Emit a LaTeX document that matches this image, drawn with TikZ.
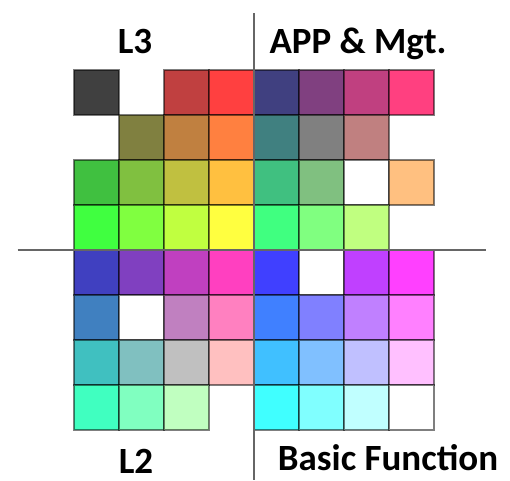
\documentclass[tikz,border=0pt]{standalone}
\usepackage{fontspec}
\setmainfont{Carlito}
\begin{document}
\begin{tikzpicture}[x=1pt,y=-1pt,
  cellborder/.style={draw=black,draw opacity=0.5,line width=1.2pt},
  axisline/.style={draw=black!60,line width=1.4pt},
  quadlabel/.style={font=\fontsize{37}{42}\selectfont\bfseries,inner sep=0pt,anchor=base}]
\useasboundingbox (0,0) rectangle (510,480);
% colour cube cells: column / row / colour
\foreach \c/\r/\h in {
  1/1/404040, 3/1/C04040, 4/1/FF4040, 5/1/404080, 6/1/804080, 7/1/C04080, 8/1/FF4080,
  2/2/808040, 3/2/C08040, 4/2/FF8040, 5/2/408080, 6/2/808080, 7/2/C08080,
  1/3/40C040, 2/3/80C040, 3/3/C0C040, 4/3/FFC040, 5/3/40C080, 6/3/80C080, 7/3/FFFFFF, 8/3/FFC080,
  1/4/40FF40, 2/4/80FF40, 3/4/C0FF40, 4/4/FFFF40, 5/4/40FF80, 6/4/80FF80, 7/4/C0FF80,
  1/5/4040C0, 2/5/8040C0, 3/5/C040C0, 4/5/FF40C0, 5/5/4040FF, 6/5/FFFFFF, 7/5/C040FF, 8/5/FF40FF,
  1/6/4080C0, 2/6/FFFFFF, 3/6/C080C0, 4/6/FF80C0, 5/6/4080FF, 6/6/8080FF, 7/6/C080FF, 8/6/FF80FF,
  1/7/40C0C0, 2/7/80C0C0, 3/7/C0C0C0, 4/7/FFC0C0, 5/7/40C0FF, 6/7/80C0FF, 7/7/C0C0FF, 8/7/FFC0FF,
  1/8/40FFC0, 2/8/80FFC0, 3/8/C0FFC0, 5/8/40FFFF, 6/8/80FFFF, 7/8/C0FFFF, 8/8/FFFFFF}
{
  \edef\setcell{\noexpand\definecolor{cellcol}{HTML}{\h}}\setcell
  \fill[cellcol] ({29+45*\c},{25+45*\r}) rectangle ++(45,45);
  \path[cellborder] ({29+45*\c},{25+45*\r}) rectangle ++(45,45);
}
% quadrant dividers
\coordinate (hl) at (17.5,250);
\coordinate (hr) at (486,250);
\coordinate (vt) at (254,13);
\coordinate (vb) at (254,480);
\draw[axisline] (hl) -- (hr);
\draw[axisline] (vt) -- (vb);
% quadrant labels
\node[quadlabel] (l3) at (135,53) {L3};
\node[quadlabel] (app) at (358,53) {APP \& Mgt.};
\node[quadlabel] (l2) at (136,473) {L2};
\node[quadlabel] (basic) at (388,470) {Basic Function};
\end{tikzpicture}
\end{document}
